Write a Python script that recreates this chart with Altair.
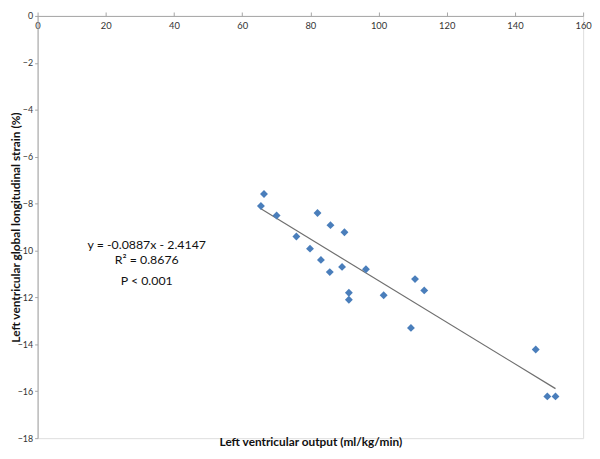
import altair as alt
import pandas as pd

# data
lv_output = [66.4, 65.5, 70.1, 75.9, 79.9, 82.1, 85.9, 90.0, 83.1, 85.7, 89.3,
             96.3, 91.3, 91.3, 101.5, 110.7, 113.4, 109.5, 146.1, 149.5, 151.9]
lv_strain = [-7.59, -8.10, -8.51, -9.40, -9.92, -8.40, -8.92, -9.22, -10.40, -10.92, -10.70,
             -10.80, -11.80, -12.10, -11.91, -11.22, -11.70, -13.30, -14.22, -16.22, -16.22]

slope = -0.0887
intercept = -2.4147

ann_text = ["y = -0.0887x - 2.4147", "R² = 0.8676", "P < 0.001"]
ann_x = [32.0, 32.0, 32.0]
ann_y = [-9.78, -10.42, -11.32]

x_ticks = [0, 20, 40, 60, 80, 100, 120, 140, 160]
y_ticks = [0, -2, -4, -6, -8, -10, -12, -14, -16, -18]

pts = pd.DataFrame({"x": lv_output, "y": lv_strain})
fit_x = [min(lv_output), max(lv_output)]
fit = pd.DataFrame({"x": fit_x, "y": [slope * v + intercept for v in fit_x]})
ann = pd.DataFrame({"x": ann_x, "y": ann_y, "t": ann_text})

FONT = "Lato"
xs = alt.Scale(domain=[0, 160], nice=False)
ys = alt.Scale(domain=[-18, 0], nice=False)

points = alt.Chart(pts).mark_point(
    shape="diamond", filled=True, size=64, color="#4a7ebb", opacity=1
).encode(
    x=alt.X("x:Q", scale=xs, axis=alt.Axis(
        orient="top", values=x_ticks, title=None, grid=False,
        tickSize=4, labelPadding=-14, labelBaseline="middle", labelFlush=False,
        labelFontSize=9.5, labelColor="#333333", labelFont=FONT,
        domainColor="#a6a6a6", tickColor="#a6a6a6")),
    y=alt.Y("y:Q", scale=ys, axis=alt.Axis(
        orient="left", values=y_ticks, grid=False, title="Left ventricular global longitudinal strain (%)",
        tickSize=3, labelPadding=2, labelFlush=False,
        labelFontSize=9, labelColor="#333333", labelFont=FONT,
        domainColor="#a6a6a6", tickColor="#a6a6a6",
        titleFont=FONT, titleFontSize=12, titleFontWeight="bold", titleColor="#111111",
        titleX=-22, titleBaseline="middle")),
)

line = alt.Chart(fit).mark_line(color="#6f6f6f", strokeWidth=1.2).encode(
    x=alt.X("x:Q", scale=xs, axis=alt.Axis(
        orient="bottom", title="Left ventricular output (ml/kg/min)", labels=False, ticks=False,
        domain=False, grid=False, titleFont=FONT, titleFontSize=12, titleFontWeight="bold",
        titleColor="#111111", titleY=3, titleBaseline="middle")),
    y=alt.Y("y:Q", scale=ys, axis=None),
)

text = alt.Chart(ann).mark_text(font=FONT, fontSize=12.5, color="#111111", align="center",
                                baseline="middle").encode(
    x=alt.X("x:Q", scale=xs, axis=None),
    y=alt.Y("y:Q", scale=ys, axis=None),
    text="t:N",
)

chart = alt.layer(line, points, text).resolve_axis(x="independent", y="independent").properties(
    width=553, height=428,
    autosize=alt.AutoSizeParams(type="none"),
    padding={"left": 30, "top": 5, "right": 9, "bottom": 12},
).configure_view(stroke=None).configure(background="white")

chart.save("out.html", embed_options={"renderer": "svg", "actions": False})
